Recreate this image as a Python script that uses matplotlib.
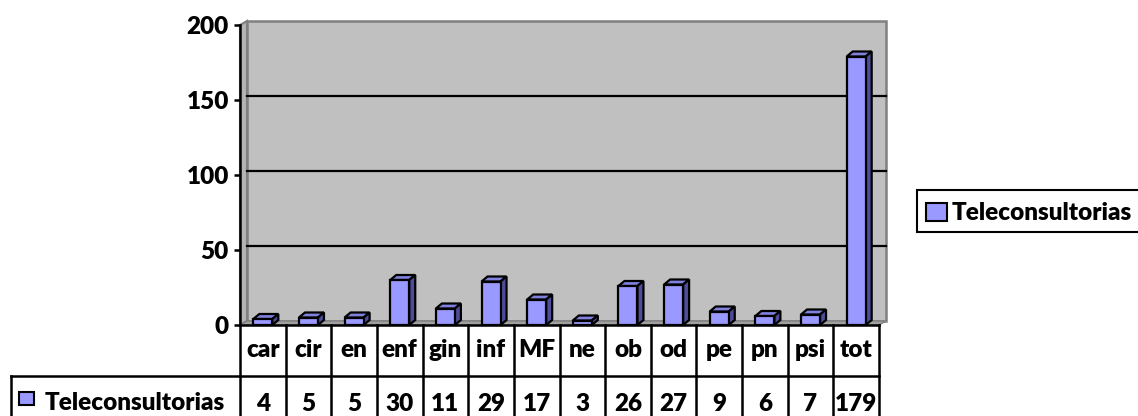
import matplotlib
matplotlib.use('Agg')
import matplotlib.pyplot as plt
from matplotlib.patches import Polygon, Rectangle
from matplotlib.lines import Line2D
from matplotlib.transforms import blended_transform_factory

categories = ['car', 'cir', 'en', 'enf', 'gin', 'inf', 'MF', 'ne', 'ob', 'od', 'pe', 'pn', 'psi', 'tot']
values = [4, 5, 5, 30, 11, 29, 17, 3, 26, 27, 9, 6, 7, 179]
series_name = 'Teleconsultorias'
yticks = [0, 50, 100, 150, 200]

FONT = 'Lato'
FW = 'heavy'
FS = 17.5
BAR = '#9999FF'
TOPC = '#8080DD'
SIDEC = '#4D4D99'

W, H = 1138, 416
fig = plt.figure(figsize=(W / 100, H / 100), dpi=100)


def fx(px):
    return px / W


def fy(py):
    return 1 - py / H


left, right, top, zero = 240, 879, 25, 325
ax = fig.add_axes([fx(left), fy(zero), fx(right) - fx(left), fy(top) - fy(zero)])
n = len(categories)
x0, x1 = -0.5, n - 0.5
ymax = yticks[-1]
ax.set_xlim(x0, x1)
ax.set_ylim(0, ymax)
ax.patch.set_visible(False)
for s in ['top', 'right', 'bottom']:
    ax.spines[s].set_visible(False)
ax.spines['left'].set_linewidth(1.8)
ax.spines['left'].set_zorder(5)
ax.set_xticks([])
ax.set_yticks(yticks)
ax.set_yticklabels([str(v) for v in yticks])
ax.tick_params(axis='y', length=4.5, width=1.8, pad=3.5, labelsize=FS)
for lab in ax.get_yticklabels():
    lab.set_fontweight(FW)
    lab.set_fontfamily(FONT)

ppx = (right - left) / n
ppy = (zero - top) / ymax
DX, DY = 7 / ppx, 4 / ppy      # wall depth
BDX, BDY = 6 / ppx, 5 / ppy    # bar depth
bw = 19 / ppx

# walls
ax.add_patch(Polygon([(x0 + DX, DY), (x1 + DX, DY), (x1 + DX, ymax + DY), (x0 + DX, ymax + DY)],
                     closed=True, fc='#C0C0C0', ec='#808080', lw=1.8, clip_on=False, zorder=0))
ax.add_patch(Polygon([(x0, 0), (x0 + DX, DY), (x0 + DX, ymax + DY), (x0, ymax)],
                     closed=True, fc='#B4B4B4', ec='#808080', lw=1.5, clip_on=False, zorder=0.5))
ax.add_patch(Polygon([(x0, 0), (x1, 0), (x1 + DX, DY), (x0 + DX, DY)],
                     closed=True, fc='#A0A0A0', ec='#808080', lw=1.0, clip_on=False, zorder=0.5))
for v in yticks[1:-1]:
    ax.plot([x0 + DX, x1 + DX], [v + DY, v + DY], color='black', lw=1.6, clip_on=False, zorder=1)

# bars
xs = list(range(n))
ax.bar(xs, values, width=bw, color=BAR, edgecolor='black', lw=1.6, zorder=3, clip_on=False)
for x, v in zip(xs, values):
    a, b = x - bw / 2, x + bw / 2
    ax.add_patch(Polygon([(a, v), (b, v), (b + BDX, v + BDY), (a + BDX, v + BDY)], closed=True,
                         fc=TOPC, ec='black', lw=1.6, clip_on=False, zorder=2.9))
    ax.add_patch(Polygon([(b, 0), (b + BDX, BDY), (b + BDX, v + BDY), (b, v)], closed=True,
                         fc=SIDEC, ec='black', lw=1.6, clip_on=False, zorder=2.9))

# front zero line
ax.plot([x0, x1], [0, 0], color='black', lw=1.8, clip_on=False, zorder=4)

# data table
tr = blended_transform_factory(ax.transData, fig.transFigure)
for i in range(n + 1):
    fig.add_artist(Line2D([x0 + i, x0 + i], [fy(zero), fy(H + 5)], transform=tr, color='black', lw=1.8))
fig.add_artist(Line2D([x0, x1], [fy(376), fy(376)], transform=tr, color='black', lw=1.8))
fig.add_artist(Line2D([fx(11), fx(left)], [fy(376), fy(376)], transform=fig.transFigure, color='black', lw=1.8))
fig.add_artist(Line2D([fx(11), fx(11)], [fy(376), fy(H + 5)], transform=fig.transFigure, color='black', lw=1.8))

for x, c, v in zip(xs, categories, values):
    fig.text(x, fy(357), c, transform=tr, ha='center', va='baseline', fontsize=FS,
             fontweight=FW, family=FONT)
    fig.text(x, fy(411), str(v), transform=tr, ha='center', va='baseline', fontsize=FS,
             fontweight=FW, family=FONT)

fig.add_artist(Rectangle((fx(19), fy(405)), fx(15), 13 / H, transform=fig.transFigure,
                         fc=BAR, ec='black', lw=1.5))
fig.text(fx(45), fy(410), series_name, ha='left', va='baseline', fontsize=FS,
         fontweight=FW, family=FONT)

# legend
fig.add_artist(Rectangle((fx(917), fy(232)), fx(240), 42 / H, transform=fig.transFigure,
                         fc='white', ec='black', lw=1.5))
fig.add_artist(Rectangle((fx(926), fy(221)), fx(21), 18 / H, transform=fig.transFigure,
                         fc=BAR, ec='black', lw=1.5))
fig.text(fx(952), fy(220), series_name, ha='left', va='baseline', fontsize=FS,
         fontweight=FW, family=FONT)

fig.savefig('out.png', dpi=100, facecolor='white')
